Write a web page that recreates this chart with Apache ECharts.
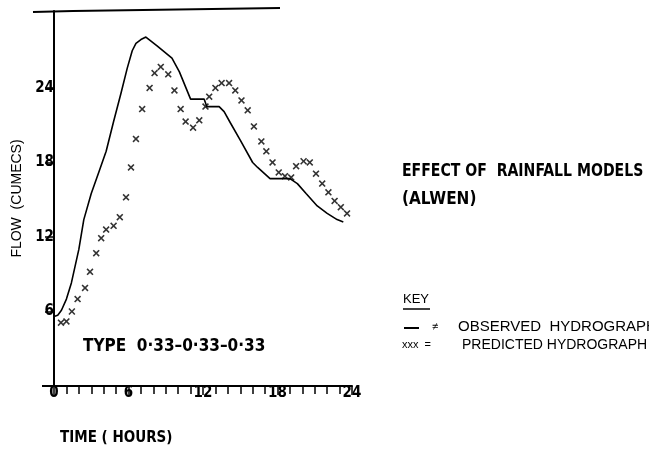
<!DOCTYPE html>
<html>
<head>
<meta charset="utf-8">
<script src="https://cdn.jsdelivr.net/npm/echarts/dist/echarts.min.js"></script>
<style>
  html, body { margin: 0; padding: 0; background: #fff; }
  #chart { width: 649px; height: 451px; }
</style>
</head>
<body>
<div id="chart"></div>
<script>
// Observed hydrograph (solid line): time in hours, flow in cumecs
const observedHours = [0, 0.3, 0.6, 1.0, 1.4, 2.0, 2.4, 3.0, 3.6, 4.2, 4.8, 5.4, 5.9, 6.3, 6.6, 7.0, 7.4, 8.3, 9.5, 10.1, 11.0, 12.1, 12.3, 13.3, 13.7, 14.2, 15.0, 16.0, 16.4, 17.4, 18.2, 19.0, 19.6, 20.3, 21.2, 22.0, 22.8, 23.3];
const observedFlow  = [5.6, 5.7, 6.1, 7.0, 8.3, 11.0, 13.4, 15.5, 17.2, 18.9, 21.3, 23.6, 25.6, 27.0, 27.6, 27.9, 28.1, 27.4, 26.4, 25.3, 23.1, 23.1, 22.5, 22.5, 22.1, 21.2, 19.8, 18.0, 17.6, 16.7, 16.7, 16.7, 16.3, 15.5, 14.5, 13.9, 13.4, 13.2];

// Predicted hydrograph (crosses)
const predictedHours = [0.56, 1.0, 1.44, 1.9, 2.5, 2.9, 3.4, 3.8, 4.2, 4.8, 5.3, 5.8, 6.2, 6.6, 7.1, 7.7, 8.1, 8.6, 9.2, 9.7, 10.2, 10.6, 11.2, 11.7, 12.2, 12.5, 13.0, 13.5, 14.1, 14.6, 15.1, 15.6, 16.1, 16.7, 17.1, 17.6, 18.1, 18.6, 19.1, 19.5, 20.1, 20.6, 21.1, 21.6, 22.1, 22.6, 23.1, 23.6];
const predictedFlow  = [5.1, 5.2, 6.0, 7.0, 7.9, 9.2, 10.7, 11.9, 12.6, 12.9, 13.6, 15.2, 17.6, 19.9, 22.3, 24.0, 25.2, 25.7, 25.1, 23.8, 22.3, 21.3, 20.8, 21.4, 22.5, 23.3, 24.0, 24.4, 24.4, 23.8, 23.0, 22.2, 20.9, 19.7, 18.9, 18.0, 17.2, 16.9, 16.8, 17.7, 18.1, 18.0, 17.1, 16.3, 15.6, 14.9, 14.4, 13.9];

// Axis labelling
const hourTicks = [0, 6, 12, 18, 24];
const flowTicks = [6, 12, 18, 24];
const hourMax = 24;
const flowMax = 30.2;

const titleLines = ['EFFECT OF  RAINFALL MODELS', '(ALWEN)'];
const typeLabel = 'TYPE  0·33–0·33–0·33';
const keyLabel = 'KEY';
const observedLabel = 'OBSERVED  HYDROGRAPH';
const predictedLabel = 'PREDICTED HYDROGRAPH';

const zip = (xs, ys) => xs.map((x, i) => [x, ys[i]]);

const boldFont = "'DejaVu Sans Condensed', 'Liberation Sans', sans-serif";
const plainFont = "'Liberation Sans', 'DejaVu Sans', sans-serif";
const ink = '#000';

// Little "x" used for the predicted points
const crossPath = 'path://M0,1.6L1.6,0L5,3.4L8.4,0L10,1.6L6.6,5L10,8.4L8.4,10L5,6.6L1.6,10L0,8.4L3.4,5Z';

const chart = echarts.init(document.getElementById('chart'), null, { renderer: 'canvas' });

chart.setOption({
  backgroundColor: '#fff',
  animation: false,
  grid: { left: 54, right: 297, top: 11, bottom: 65 },
  xAxis: {
    type: 'value',
    min: 0,
    max: hourMax,
    interval: 6,
    splitLine: { show: false },
    axisLine: { onZero: false, lineStyle: { color: ink, width: 2 } },
    axisTick: { show: true, length: 9, lineStyle: { color: ink, width: 1.5 }, customValues: hourTicks },
    minorTick: { show: true, splitNumber: 6, length: 8, lineStyle: { color: ink, width: 1.5 } },
    axisLabel: {
      color: ink, fontFamily: boldFont, fontWeight: 'bold', fontSize: 15, margin: 0,
      customValues: hourTicks
    }
  },
  yAxis: {
    type: 'value',
    min: 0,
    max: flowMax,
    interval: 6,
    name: 'FLOW  (CUMECS)',
    nameLocation: 'middle',
    nameGap: 30,
    nameTextStyle: { color: ink, fontFamily: plainFont, fontSize: 14 },
    splitLine: { show: false },
    axisLine: { onZero: false, lineStyle: { color: ink, width: 2 } },
    axisTick: { show: true, length: 9, lineStyle: { color: ink, width: 1.5 }, customValues: flowTicks },
    axisLabel: {
      color: ink, fontFamily: boldFont, fontWeight: 'bold', fontSize: 15, margin: 0,
      padding: [0, 0, 8, 0],
      customValues: flowTicks
    }
  },
  series: [
    {
      name: 'Observed',
      type: 'line',
      data: zip(observedHours, observedFlow),
      showSymbol: false,
      smooth: false,
      lineStyle: { color: ink, width: 1.6 },
      z: 3
    },
    {
      name: 'Predicted',
      type: 'scatter',
      data: zip(predictedHours, predictedFlow),
      symbol: crossPath,
      symbolSize: 7,
      itemStyle: { color: ink },
      z: 4
    }
  ],
  graphic: [
    // frame top edge and the stub of the time axis left of the flow axis
    { type: 'polyline', shape: { points: [[33, 12], [73, 11], [143, 10], [212, 9], [280, 8]] }, style: { stroke: ink, lineWidth: 2, fill: null } },
    { type: 'line', shape: { x1: 42, y1: 386, x2: 54, y2: 386 }, style: { stroke: ink, lineWidth: 2 } },
    { type: 'text', x: 60, y: 438, style: { text: 'TIME ( HOURS)', font: "bold 15px " + boldFont, fill: ink, textVerticalAlign: 'middle' } },
    { type: 'text', x: 83, y: 347, style: { text: typeLabel, font: "bold 17px " + boldFont, fill: ink, textVerticalAlign: 'middle' } },
    { type: 'text', x: 402, y: 172, scaleX: 0.92, style: { text: titleLines[0], font: "bold 17px " + boldFont, fill: ink, textVerticalAlign: 'middle' } },
    { type: 'text', x: 402, y: 200, style: { text: titleLines[1], font: "bold 17px " + boldFont, fill: ink, textVerticalAlign: 'middle' } },
    { type: 'text', x: 403, y: 299, style: { text: keyLabel, font: "13px " + plainFont, fill: ink, textVerticalAlign: 'middle' } },
    { type: 'line', shape: { x1: 403, y1: 309, x2: 430, y2: 309 }, style: { stroke: ink, lineWidth: 1.5 } },
    { type: 'line', shape: { x1: 404, y1: 328, x2: 419, y2: 328 }, style: { stroke: ink, lineWidth: 2 } },
    { type: 'text', x: 432, y: 327, style: { text: '≠', font: "11px " + plainFont, fill: ink, textVerticalAlign: 'middle' } },
    { type: 'text', x: 458, y: 327, style: { text: observedLabel, font: "15px " + plainFont, fill: ink, textVerticalAlign: 'middle' } },
    { type: 'text', x: 402, y: 345, style: { text: 'xxx  =', font: "11px " + plainFont, fill: ink, textVerticalAlign: 'middle' } },
    { type: 'text', x: 462, y: 345, style: { text: predictedLabel, font: "14px " + plainFont, fill: ink, textVerticalAlign: 'middle' } }
  ]
});
</script>
</body>
</html>
